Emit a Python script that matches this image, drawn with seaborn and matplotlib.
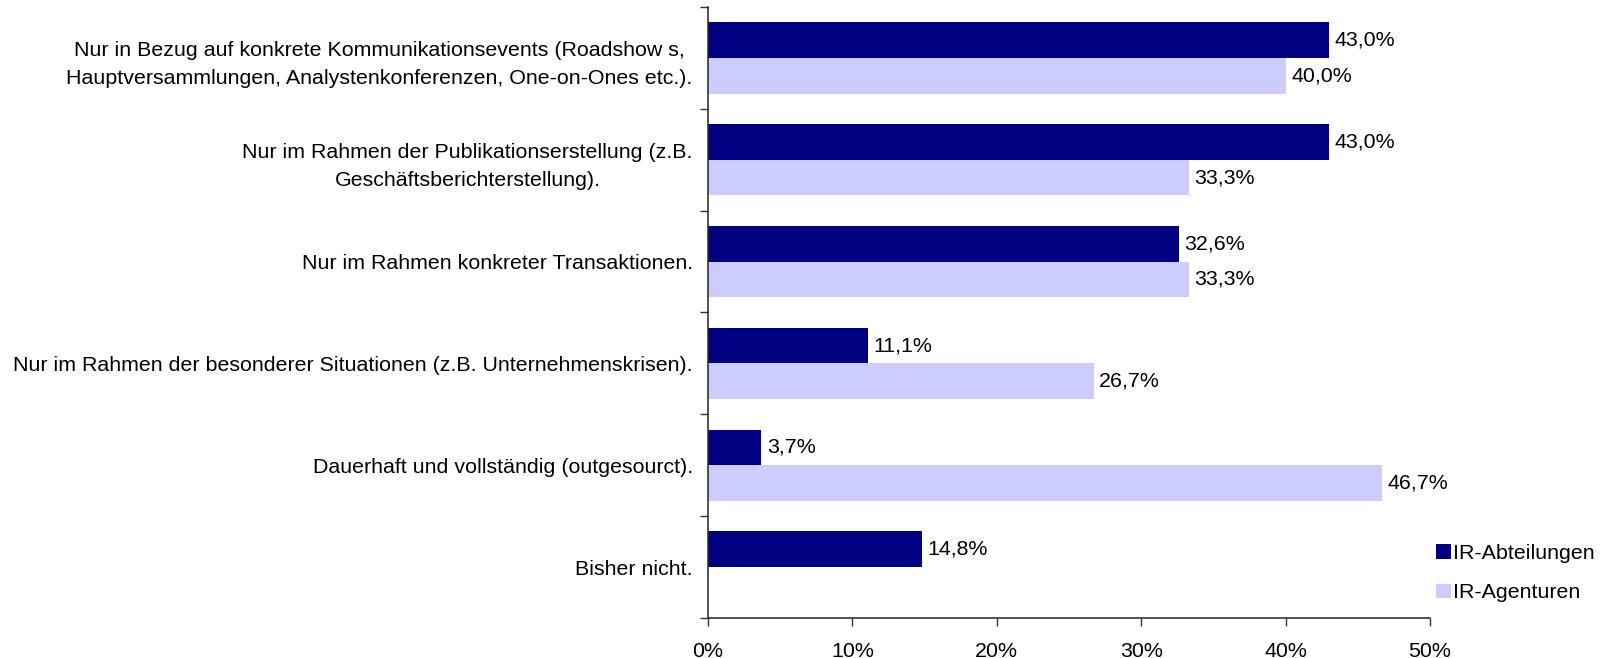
import pandas as pd
import matplotlib
matplotlib.use("Agg")
import matplotlib.pyplot as plt
import seaborn as sns
import numpy as np

categories = [
    "Nur in Bezug auf konkrete Kommunikationsevents (Roadshow s,\nHauptversammlungen, Analystenkonferenzen, One-on-Ones etc.).",
    "Nur im Rahmen der Publikationserstellung (z.B.\nGeschäftsberichterstellung).",
    "Nur im Rahmen konkreter Transaktionen.",
    "Nur im Rahmen der besonderer Situationen (z.B. Unternehmenskrisen).",
    "Dauerhaft und vollständig (outgesourct).",
    "Bisher nicht.",
]
series = ["IR-Abteilungen", "IR-Agenturen"]
abteilungen = [43.0, 43.0, 32.6, 11.1, 3.7, 14.8]
agenturen = [40.0, 33.3, 33.3, 26.7, 46.7, None]  # no value for "Bisher nicht."
xticks = [0, 10, 20, 30, 40, 50]

df = pd.DataFrame({
    "Kategorie": categories * 2,
    "Gruppe": [series[0]] * 6 + [series[1]] * 6,
    "Wert": [0 if v is None else v for v in abteilungen + agenturen],
})

FS = 15.4

sns.set_style("white")
plt.rcParams["font.family"] = ["Liberation Sans", "DejaVu Sans"]
plt.rcParams["font.size"] = FS
plt.rcParams["text.color"] = "black"
plt.rcParams["xtick.color"] = "black"
plt.rcParams["ytick.color"] = "black"

fig = plt.figure(figsize=(16.16, 6.58), dpi=100)
ax = fig.add_axes([0.4381, 0.0608, 0.4468, 0.9286])

sns.barplot(data=df, y="Kategorie", x="Wert", hue="Gruppe", order=categories,
            hue_order=series, palette=["#000080", "#CCCCFF"], width=0.7,
            saturation=1, orient="h", ax=ax, linewidth=0, legend=True)

for cont, vals in zip(ax.containers, [abteilungen, agenturen]):
    labels = ["" if v is None else f"{v:.1f}%".replace(".", ",") for v in vals]
    ax.bar_label(cont, labels=labels, padding=4, fontsize=FS, color="black")

ax.set_xlim(0, 50)
ax.set_ylim(len(categories) - 0.5, -0.5)
ax.set_xticks(xticks)
ax.set_xticklabels([f"{t}%" for t in xticks])
ax.set_xlabel("")
ax.set_ylabel("")

# ticks at category borders, labels centered
ax.set_yticks(np.arange(-0.5, len(categories) + 0.5, 1), minor=True)
ax.set_yticks(range(len(categories)))
ax.set_yticklabels(categories, multialignment="center", linespacing=1.6)
ax.tick_params(axis="y", which="major", length=0, pad=11, labelsize=FS)
ax.tick_params(axis="y", which="minor", left=True, length=6, width=1, color="#333333")
ax.tick_params(axis="x", bottom=True, length=6, width=1, color="#333333", pad=11,
               labelsize=FS)

for s in ["top", "right"]:
    ax.spines[s].set_visible(False)
for s in ["left", "bottom"]:
    ax.spines[s].set_color("#333333")
    ax.spines[s].set_linewidth(1.2)

handles, labs = ax.get_legend_handles_labels()
ax.legend_.remove()
fig.legend(handles, labs, loc="upper left", bbox_to_anchor=(0.8835, 0.186),
           frameon=False, handlelength=0.7, handleheight=0.7, handletextpad=0.1,
           labelspacing=0.95, fontsize=FS, borderaxespad=0)

fig.savefig("out.png", dpi=100)
